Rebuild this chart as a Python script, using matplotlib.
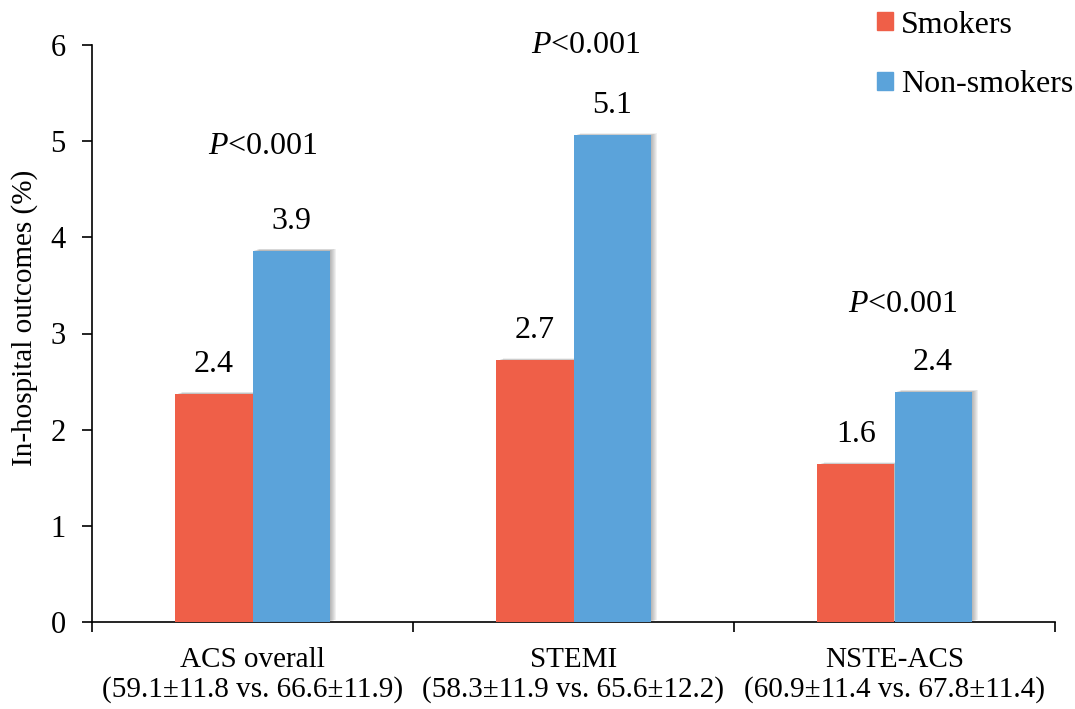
import matplotlib
matplotlib.use("Agg")
import matplotlib.pyplot as plt
import matplotlib.patheffects as pe
from matplotlib.patches import Patch
import numpy as np

categories = ["ACS overall\n(59.1\u00b111.8 vs. 66.6\u00b111.9)",
              "STEMI\n(58.3\u00b111.9 vs. 65.6\u00b112.2)",
              "NSTE-ACS\n(60.9\u00b111.4 vs. 67.8\u00b111.4)"]
smokers = [2.37, 2.72, 1.64]
non_smokers = [3.86, 5.06, 2.39]
p_labels = ["<0.001", "<0.001", "<0.001"]
series_names = ["Smokers", "Non-smokers"]
yticks = [0, 1, 2, 3, 4, 5, 6]

plt.rcParams['font.family'] = ['Liberation Serif', 'DejaVu Serif']
plt.rcParams['mathtext.fontset'] = 'custom'
plt.rcParams['mathtext.rm'] = 'Liberation Serif'
plt.rcParams['mathtext.it'] = 'Liberation Serif:italic'

FS = 21
FS_BIG = 23
red = '#EF5F48'
blue = '#5BA3DA'

fig = plt.figure(figsize=(10.75, 7.09), dpi=100)
ax = fig.add_axes([92/1075, 1-622/709, 963/1075, (622-45)/709])

x = np.arange(len(categories))
w = 0.24
shadow = [pe.SimplePatchShadow(offset=(o, 0.3 * o), shadow_rgbFace='#606060', alpha=0.09)
          for o in (0.8, 1.6, 2.4, 3.2, 4.0, 4.8)] + [pe.Normal()]
b1 = ax.bar(x - w/2, smokers, w, color=red, zorder=3, path_effects=shadow)
b2 = ax.bar(x + w/2, non_smokers, w, color=blue, zorder=3, path_effects=shadow)

for bars, vals in ((b1, smokers), (b2, non_smokers)):
    for r, v in zip(bars, vals):
        ax.annotate(f"{v:.1f}", (r.get_x() + r.get_width()/2, v), xytext=(0, 11),
                    textcoords='offset points', ha='center', va='bottom', fontsize=FS_BIG)

p_pos = [(0.033, 4.94), (1.039, 5.99), (2.026, 3.30)]
for (px, py), lab in zip(p_pos, p_labels):
    ax.text(px, py, r"$\mathit{P}$" + lab, ha='center', va='center', fontsize=FS_BIG)

ax.set_xlim(-0.5, 2.5)
ax.set_ylim(0, 6)
ax.set_yticks(yticks)
ax.set_yticklabels([str(t) for t in yticks], fontsize=FS + 1)
ax.set_xticks([-0.5, 0.5, 1.5, 2.5])
ax.set_xticklabels([])
ax.set_xticks(x, minor=True)
ax.set_xticklabels(categories, minor=True, fontsize=FS, linespacing=1.15)
ax.tick_params(axis='x', which='minor', length=0, pad=18)
ax.tick_params(axis='x', which='major', length=7, width=1.2, direction='out')
ax.tick_params(axis='y', length=7, width=1.2, direction='out', pad=12)
for s in ('top', 'right'):
    ax.spines[s].set_visible(False)
for s in ('left', 'bottom'):
    ax.spines[s].set_linewidth(1.2)

fig.text(25/1075, 1-318/709, "In-hospital outcomes (%)", rotation=90,
         ha='center', va='center', fontsize=FS)

handles = [Patch(color=red), Patch(color=blue)]
fig.legend(handles, series_names, loc='upper left', bbox_to_anchor=(864/1075, 1.003),
           borderaxespad=0, frameon=False, fontsize=FS_BIG, handlelength=0.5,
           handleheight=0.5, handletextpad=0.25, labelspacing=0.95)

fig.savefig("out.png", dpi=100)
